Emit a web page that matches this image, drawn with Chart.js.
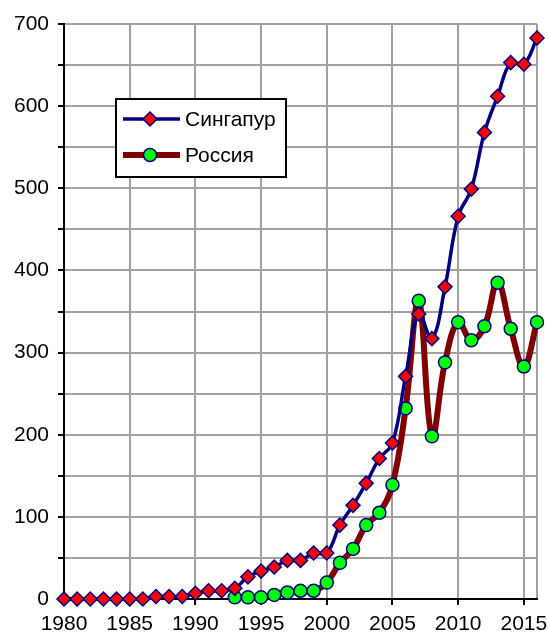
<!DOCTYPE html>
<html>
<head>
<meta charset="utf-8">
<script src="https://cdn.jsdelivr.net/npm/chart.js@4/dist/chart.umd.min.js"></script>
<style>
  html, body { margin: 0; padding: 0; background: #fff; }
  #wrap { width: 549px; height: 636px; position: relative; }
</style>
</head>
<body>
<div id="wrap"><canvas id="c"></canvas></div>
<script>
"use strict";

var years = [1980, 1981, 1982, 1983, 1984, 1985, 1986, 1987, 1988, 1989,
             1990, 1991, 1992, 1993, 1994, 1995, 1996, 1997, 1998, 1999,
             2000, 2001, 2002, 2003, 2004, 2005, 2006, 2007, 2008, 2009,
             2010, 2011, 2012, 2013, 2014, 2015, 2016];

var singapore = [0, 0, 0, 0, 0, 0, 0, 3, 3, 3,
                 7, 10, 10, 13, 27, 34, 39, 47, 47, 56,
                 56, 90, 114, 141, 171, 190, 271, 347, 317, 380,
                 466, 499, 568, 612, 653, 651, 683];

var russia = [null, null, null, null, null, null, null, null, null, null,
              null, null, null, 2, 2, 2, 5, 8, 10, 10,
              20, 44, 61, 90, 105, 139, 232, 363, 198, 288,
              337, 315, 332, 385, 329, 283, 337];

var seriesNames = ["Сингапур", "Россия"];
var xTicks = [1980, 1985, 1990, 1995, 2000, 2005, 2010, 2015];
var yTicks = [0, 100, 200, 300, 400, 500, 600, 700];

var FONT = "'Liberation Sans', Arial, sans-serif";
var NAVY = "#000080", RED = "#ff0000", BROWN = "#800000", GREEN = "#00ff00";

function points(vals) {
  var out = [];
  for (var i = 0; i < years.length; i++) {
    if (vals[i] !== null) out.push({ x: years[i], y: vals[i] });
  }
  return out;
}

// legend box drawn inside the plot
var boxLegend = {
  id: "boxLegend",
  afterDraw: function(chart) {
    var ctx = chart.ctx;
    var x0 = 116, y0 = 99, w = 170, h = 78;
    ctx.save();
    ctx.fillStyle = "#fff";
    ctx.fillRect(x0, y0, w, h);
    ctx.strokeStyle = "#000";
    ctx.lineWidth = 2;
    ctx.strokeRect(x0, y0, w, h);

    var rows = [
      { y: 119, line: NAVY, lw: 3.5, style: "rectRot", r: 7, fill: RED },
      { y: 155, line: BROWN, lw: 6, style: "circle", r: 6.5, fill: GREEN }
    ];
    rows.forEach(function(r, i) {
      ctx.beginPath();
      ctx.strokeStyle = r.line;
      ctx.lineWidth = r.lw;
      ctx.moveTo(123, r.y);
      ctx.lineTo(180, r.y);
      ctx.stroke();
      ctx.fillStyle = r.fill;
      ctx.strokeStyle = NAVY;
      ctx.lineWidth = 1.5;
      Chart.helpers.drawPoint(ctx, { pointStyle: r.style, radius: r.r, borderWidth: 1.5 }, 150, r.y);
      ctx.fillStyle = "#000";
      ctx.font = "21px " + FONT;
      ctx.textBaseline = "middle";
      ctx.fillText(seriesNames[i], 185, r.y + 1);
    });
    ctx.restore();
  }
};

new Chart(document.getElementById("c"), {
  type: "line",
  data: {
    datasets: [{
      label: seriesNames[0],
      data: points(singapore),
      borderColor: NAVY,
      borderWidth: 3.5,
      tension: 0.4,
      pointStyle: "rectRot",
      pointRadius: 7,
      pointBackgroundColor: RED,
      pointBorderColor: NAVY,
      pointBorderWidth: 1.5,
      clip: false
    }, {
      label: seriesNames[1],
      data: points(russia),
      borderColor: BROWN,
      borderWidth: 6,
      tension: 0.4,
      pointStyle: "circle",
      pointRadius: 6.5,
      pointBackgroundColor: GREEN,
      pointBorderColor: NAVY,
      pointBorderWidth: 1.5,
      clip: false
    }]
  },
  options: {
    responsive: true,
    maintainAspectRatio: false,
    animation: false,
    events: [],
    layout: { padding: { top: 24, right: 12, left: 0, bottom: 0 } },
    plugins: { legend: { display: false }, tooltip: { enabled: false } },
    scales: {
      x: {
        type: "linear",
        min: 1980,
        max: 2016,
        afterFit: function(s) { s.height = 37; },
        // labelled ticks every 5 years, plus the right edge of the plot
        afterBuildTicks: function(s) {
          s.ticks = xTicks.concat([2016]).map(function(v) { return { value: v }; });
        },
        ticks: {
          autoSkip: false,
          maxRotation: 0,
          padding: 7,
          color: "#000",
          font: { family: FONT, size: 21 },
          callback: function(v) { return xTicks.indexOf(v) >= 0 ? String(v) : ""; }
        },
        grid: {
          color: "#a0a0a0",
          lineWidth: 2,
          tickLength: 6,
          tickColor: function(c) { return c.tick && xTicks.indexOf(c.tick.value) < 0 ? "rgba(0,0,0,0)" : "#000"; },
          tickWidth: 2
        },
        border: { color: "#000", width: 2 }
      },
      y: {
        min: 0,
        max: 700,
        afterFit: function(s) { s.width = 64; },
        ticks: {
          stepSize: 50,
          autoSkip: false,
          padding: 9,
          color: "#000",
          font: { family: FONT, size: 21 },
          callback: function(v) { return yTicks.indexOf(v) >= 0 ? String(v) : ""; }
        },
        grid: {
          color: "#a0a0a0",
          lineWidth: 2,
          tickLength: 6,
          tickColor: "#000",
          tickWidth: 2
        },
        border: { color: "#000", width: 2 }
      }
    }
  },
  plugins: [boxLegend]
});
</script>
</body>
</html>
